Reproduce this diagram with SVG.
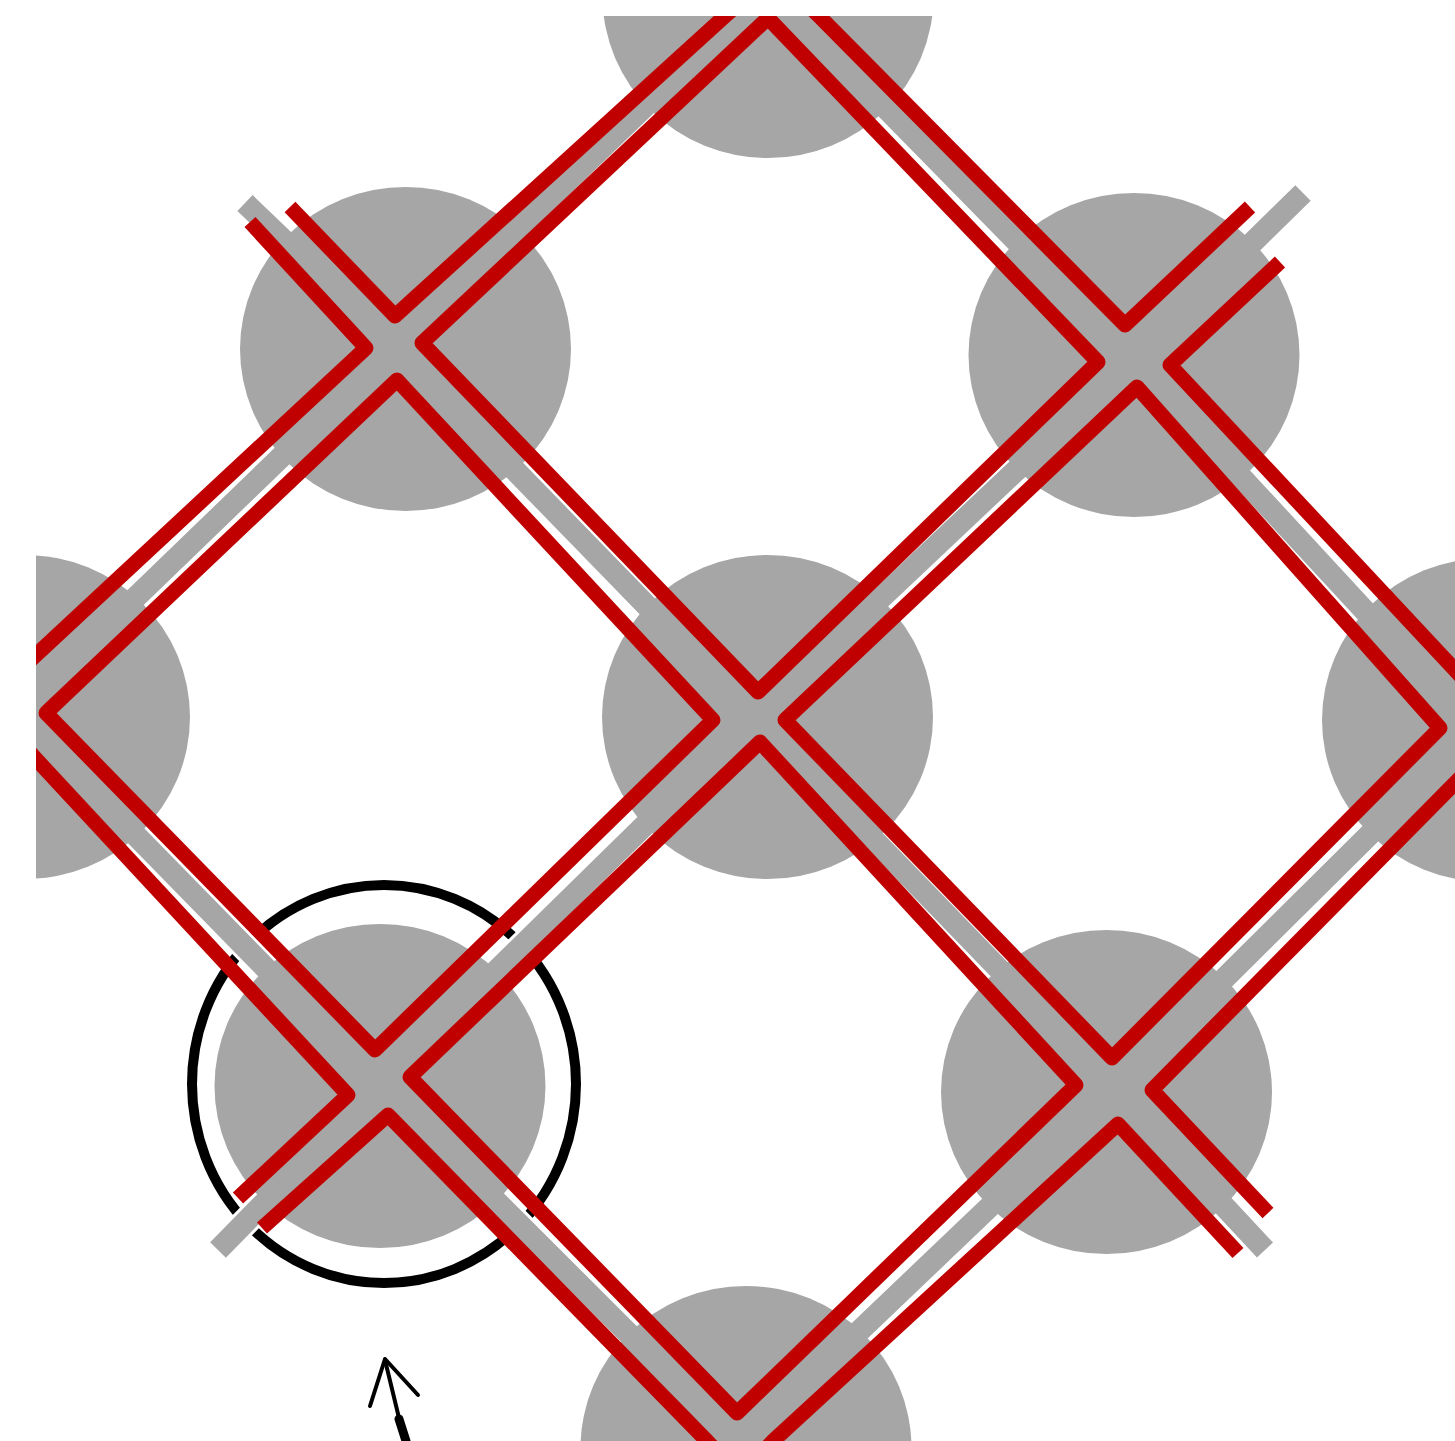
<svg xmlns="http://www.w3.org/2000/svg" width="1455" height="1441" viewBox="0 0 1455 1441">
<defs>
<clipPath id="frame"><rect x="36" y="16" width="1419" height="1425"/></clipPath>
<style>
.hub{fill:#a6a6a6}
.case{fill:none;stroke:#ffffff;stroke-width:28;stroke-linejoin:round}
.road{fill:none;stroke:#a6a6a6;stroke-width:22;stroke-linejoin:round;stroke-linecap:butt}
.edge{fill:none;stroke:#c00000;stroke-width:15;stroke-linejoin:round;stroke-linecap:butt}
.ring{fill:none;stroke:#000000;stroke-width:10}
.arrow{fill:none;stroke:#000000;stroke-width:4;stroke-linecap:round;stroke-linejoin:round}
</style>
</defs>
<rect width="1455" height="1441" fill="#ffffff"/>
<g clip-path="url(#frame)">
<g id="ring"><ellipse class="ring" cx="384" cy="1084" rx="192" ry="199"/></g>
<g id="casing">
<polyline class="case" points="245,203 395,347 755,717 1114,1088 1265,1250"/>
<polyline class="case" points="1303,193 1133,360 755,717 380,1085 218,1250"/>
<polyline class="case" points="-20,748 16,713 395,347 768,-12 800,-45"/>
<polyline class="case" points="768,-12 1133,360 1475,730"/>
<polyline class="case" points="16,713 380,1085 740,1445"/>
<polyline class="case" points="740,1445 1114,1088 1475,730"/>
</g>
<g id="hubs">
<ellipse id="hub-top" class="hub" cx="768" cy="-4" rx="165.5" ry="162"/>
<ellipse id="hub-ul" class="hub" cx="405.5" cy="349" rx="165.5" ry="162"/>
<ellipse id="hub-ur" class="hub" cx="1134" cy="355" rx="165.5" ry="162"/>
<ellipse id="hub-left" class="hub" cx="24.5" cy="717" rx="165.5" ry="162"/>
<ellipse id="hub-center" class="hub" cx="767.5" cy="717" rx="165.5" ry="162"/>
<ellipse id="hub-right" class="hub" cx="1487.5" cy="720" rx="165.5" ry="162"/>
<ellipse id="hub-ll" class="hub" cx="380" cy="1086" rx="165.5" ry="162"/>
<ellipse id="hub-lr" class="hub" cx="1106.5" cy="1092" rx="165.5" ry="162"/>
<ellipse id="hub-bottom" class="hub" cx="746" cy="1448" rx="165.5" ry="162"/>
</g>
<g id="roads">
<polyline class="road" points="245,203 395,347 755,717 1114,1088 1265,1250"/>
<polyline class="road" points="1303,193 1133,360 755,717 380,1085 218,1250"/>
<polyline class="road" points="-20,748 16,713 395,347 768,-12 800,-45"/>
<polyline class="road" points="768,-12 1133,360 1475,730"/>
<polyline class="road" points="16,713 380,1085 740,1445"/>
<polyline class="road" points="740,1445 1114,1088 1475,730"/>
</g>
<g id="edges">
<polygon class="edge" points="768,18 1098,362 758,692 422,343"/>
<polygon class="edge" points="397,380 713,720 375,1050 46,713"/>
<polygon class="edge" points="1137,387 1440,728 1112,1058 785,720"/>
<polygon class="edge" points="760,742 1076,1085 737,1413 410,1077"/>
<polyline class="edge" points="290,207 395,316 725,16 745,-2"/>
<polyline class="edge" points="800,-3 818,15 1125,325 1250,207"/>
<polyline class="edge" points="250,222 366,348 36,655 10,679"/>
<polyline class="edge" points="10,730 35,758 348,1095 238,1198"/>
<polyline class="edge" points="262,1228 388,1115 707,1441 720,1455"/>
<polyline class="edge" points="1238,1253 1118,1124 773,1441 760,1455"/>
<polyline class="edge" points="1470,768 1455,783 1152,1090 1268,1213"/>
<polyline class="edge" points="1280,262 1170,365 1455,670 1470,686"/>
</g>
</g>
<g id="pointer">
<polyline class="arrow" points="370,1406 385,1359 418,1395"/>
<line class="arrow" x1="385" y1="1360" x2="399" y2="1418"/>
<line x1="399" y1="1419" x2="406" y2="1441" stroke="#000000" stroke-width="9" stroke-linecap="round"/>
</g>
</svg>
